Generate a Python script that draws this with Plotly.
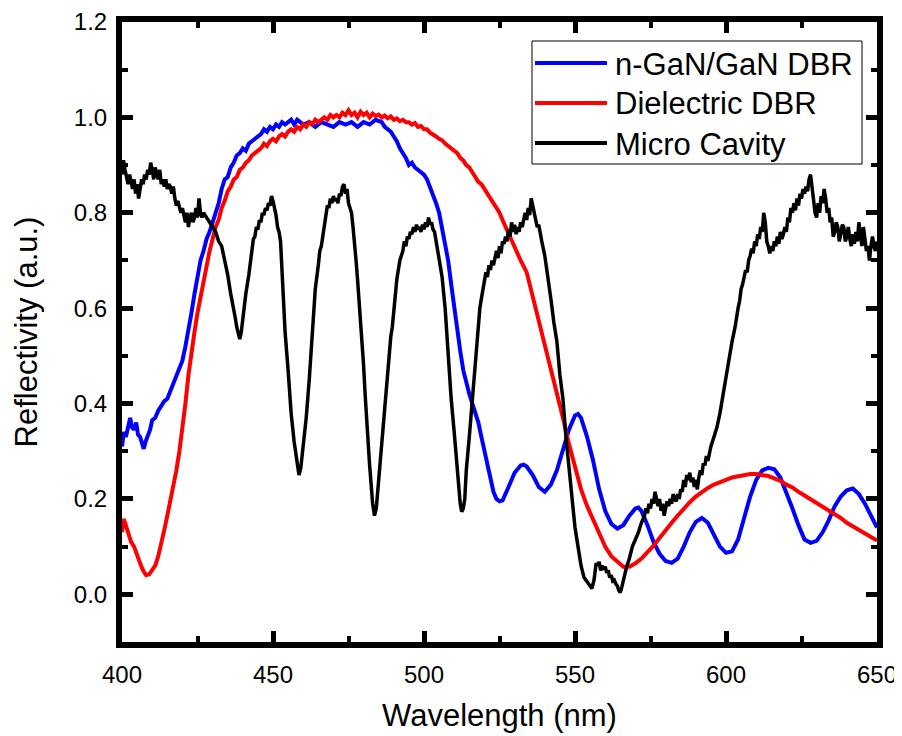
import plotly.graph_objects as go

# ---------------- data ----------------
blue_x = [400.0, 400.6, 401.3, 402.0, 402.7, 403.3, 404.0, 404.7, 405.3, 406.0, 406.6, 407.2, 407.8, 408.5, 409.3,
          410, 411, 412, 413, 414, 415, 416, 417, 418, 419, 420, 421, 422, 423, 424, 425, 426, 427, 428, 429,
          430, 431, 432, 433, 434, 435, 436, 437, 438, 439, 440, 441, 442, 443, 444, 445, 446, 447, 448, 449,
          450, 451, 452, 453, 454, 455, 456, 457, 458, 459, 460, 462, 464, 466, 468, 470, 472, 474, 476, 478,
          480, 482, 484, 486, 487, 488, 489, 490, 491, 492, 493, 494, 495, 496, 497, 498, 499, 500, 501, 502,
          503, 504, 505, 506, 507, 508, 509, 510, 511, 512, 513, 514, 515, 516, 517, 518, 519, 520, 521, 522,
          523, 524, 525, 526, 527, 528, 530, 532, 533, 534, 536, 538, 540, 542, 544, 546, 548, 550, 551, 552,
          554, 556, 558, 560, 562, 564, 566, 568, 570, 571, 572, 574, 576, 578, 580, 582, 584, 586, 588, 590,
          592, 594, 596, 598, 600, 602, 604, 606, 608, 610, 612, 614, 616, 618, 620, 622, 624, 626, 628, 630,
          632, 634, 636, 638, 640, 642, 644, 646, 648, 650]
blue_y = [0.31, 0.34, 0.33, 0.35, 0.37, 0.35, 0.345, 0.36, 0.335, 0.33, 0.32, 0.305, 0.32, 0.33, 0.345,
          0.365, 0.37, 0.385, 0.395, 0.405, 0.41, 0.425, 0.44, 0.455, 0.475, 0.49, 0.52, 0.55, 0.59, 0.63, 0.67,
          0.70, 0.72, 0.745, 0.76, 0.78, 0.80, 0.82, 0.85, 0.87, 0.875, 0.895, 0.905, 0.92, 0.925, 0.935, 0.93,
          0.945, 0.95, 0.955, 0.96, 0.965, 0.975, 0.97, 0.98, 0.975, 0.985, 0.98, 0.99, 0.985, 0.99, 0.995,
          0.985, 0.995, 0.99, 0.985, 0.99, 0.98, 0.99, 0.985, 0.98, 0.99, 0.985, 0.99, 0.98, 0.99, 0.985, 0.995,
          0.99, 0.98, 0.975, 0.97, 0.96, 0.95, 0.935, 0.925, 0.915, 0.90, 0.905, 0.895, 0.89, 0.885, 0.88, 0.87,
          0.855, 0.84, 0.82, 0.80, 0.77, 0.74, 0.70, 0.65, 0.60, 0.55, 0.51, 0.47, 0.44, 0.42, 0.40, 0.38, 0.36,
          0.33, 0.30, 0.27, 0.24, 0.215, 0.20, 0.195, 0.197, 0.21, 0.225, 0.255, 0.27, 0.272, 0.268, 0.25, 0.225,
          0.215, 0.23, 0.26, 0.30, 0.345, 0.375, 0.378, 0.37, 0.33, 0.28, 0.22, 0.175, 0.148, 0.138, 0.145,
          0.165, 0.18, 0.182, 0.175, 0.145, 0.11, 0.085, 0.07, 0.066, 0.075, 0.10, 0.13, 0.152, 0.16, 0.15,
          0.125, 0.10, 0.087, 0.09, 0.115, 0.16, 0.205, 0.24, 0.26, 0.265, 0.262, 0.245, 0.215, 0.18, 0.145,
          0.115, 0.108, 0.112, 0.13, 0.155, 0.185, 0.205, 0.218, 0.222, 0.21, 0.19, 0.165, 0.14]

red_x = [400.0, 400.5, 401, 401.5, 402, 403, 404, 405, 406, 407, 408, 409, 410, 411, 412, 413, 414, 415, 416,
         417, 418, 419, 420, 421, 422, 423, 424, 425, 426, 427, 428, 429, 430, 431, 432, 433, 434, 435, 436,
         437, 438, 439, 440, 441, 442, 443, 444, 445, 446, 447, 448, 449, 450, 451, 452, 453, 454, 455, 456,
         457, 458, 459, 460, 461, 462, 463, 464, 465, 466, 467, 468, 469, 470, 471, 472, 473, 474, 475, 476,
         477, 478, 479, 480, 481, 482, 483, 484, 485, 486, 487, 488, 489, 490, 491, 492, 493, 494, 495, 496,
         497, 498, 499, 500, 501, 502, 503, 504, 505, 506, 507, 508, 509, 510, 511, 512, 513, 514, 515, 516,
         517, 518, 519, 520, 521, 522, 523, 524, 525, 526, 527, 528, 530, 532, 534, 536, 538, 540, 542, 544,
         546, 548, 550, 552, 554, 556, 558, 560, 562, 564, 566, 568, 570, 572, 574, 576, 578, 580, 582, 584,
         586, 588, 590, 592, 594, 596, 598, 600, 602, 604, 606, 608, 610, 612, 614, 616, 618, 620, 622, 624,
         626, 628, 630, 632, 634, 636, 638, 640, 642, 644, 646, 648, 650]
red_y = [0.13, 0.158, 0.15, 0.14, 0.13, 0.11, 0.10, 0.08, 0.065, 0.05, 0.04, 0.042, 0.05, 0.06, 0.08, 0.105,
         0.135, 0.165, 0.195, 0.225, 0.26, 0.30, 0.345, 0.40, 0.46, 0.51, 0.55, 0.59, 0.625, 0.655, 0.69, 0.72,
         0.745, 0.77, 0.785, 0.81, 0.825, 0.845, 0.855, 0.87, 0.875, 0.89, 0.895, 0.905, 0.91, 0.92, 0.925,
         0.93, 0.935, 0.945, 0.94, 0.95, 0.955, 0.95, 0.96, 0.965, 0.96, 0.97, 0.975, 0.97, 0.98, 0.975, 0.985,
         0.98, 0.99, 0.985, 0.995, 0.99, 0.995, 1.0, 0.995, 1.005, 1.0, 1.005, 1.0, 1.01, 1.005, 1.015, 1.005,
         1.01, 1.0, 1.012, 1.005, 1.01, 1.0, 1.008, 1.003, 1.006, 1.0, 1.004, 0.998, 1.002, 0.995, 0.998, 0.992,
         0.995, 0.99, 0.99, 0.985, 0.988, 0.98, 0.982, 0.975, 0.975, 0.968, 0.965, 0.96, 0.955, 0.952, 0.945,
         0.94, 0.935, 0.93, 0.925, 0.915, 0.91, 0.90, 0.895, 0.885, 0.875, 0.865, 0.86, 0.85, 0.84, 0.83, 0.82,
         0.81, 0.80, 0.785, 0.77, 0.76, 0.73, 0.70, 0.675, 0.625, 0.57, 0.52, 0.47, 0.42, 0.37, 0.315, 0.265,
         0.22, 0.185, 0.155, 0.125, 0.10, 0.08, 0.068, 0.058, 0.058, 0.065, 0.075, 0.088, 0.102, 0.118, 0.135,
         0.15, 0.165, 0.18, 0.193, 0.205, 0.215, 0.223, 0.23, 0.236, 0.24, 0.245, 0.248, 0.25, 0.252, 0.252,
         0.25, 0.248, 0.243, 0.238, 0.23, 0.224, 0.215, 0.207, 0.20, 0.193, 0.185, 0.176, 0.168, 0.16, 0.15,
         0.142, 0.135, 0.128, 0.12, 0.113]

black_pts = [
    (400, 0.88), (400.5, 0.91), (401, 0.89), (401.5, 0.87), (402, 0.86), (402.5, 0.88), (403, 0.86), (403.5, 0.85),
    (404, 0.87), (404.5, 0.84), (405, 0.86), (405.5, 0.83), (406, 0.85), (406.5, 0.87), (407, 0.86), (407.5, 0.88),
    (408, 0.87), (408.5, 0.89), (409, 0.88), (409.5, 0.905), (410, 0.89), (410.5, 0.87), (411, 0.895), (411.5, 0.88),
    (412, 0.87), (412.5, 0.89), (413, 0.86), (413.5, 0.87), (414, 0.855), (414.5, 0.87), (415, 0.85), (415.5, 0.86),
    (416, 0.855), (416.5, 0.84), (417, 0.855), (417.5, 0.83), (418, 0.815), (418.5, 0.825), (419, 0.81), (419.5, 0.80),
    (420, 0.81), (420.5, 0.79), (421, 0.78), (421.5, 0.80), (422, 0.77), (422.5, 0.79), (423, 0.80), (423.5, 0.78),
    (424, 0.79), (424.5, 0.81), (425, 0.79), (425.5, 0.83), (426, 0.80), (426.5, 0.79), (427, 0.80), (427.5, 0.795),
    (428, 0.79), (429, 0.78), (430, 0.77), (431, 0.76), (432, 0.74), (433, 0.73), (434, 0.70), (435, 0.67),
    (436, 0.63), (437, 0.60), (437.5, 0.58), (438, 0.56), (438.5, 0.545), (439, 0.535), (439.5, 0.55), (440, 0.58),
    (440.5, 0.60), (441, 0.63), (442, 0.67), (443, 0.72), (443.5, 0.745), (444, 0.75), (444.5, 0.77), (445, 0.765),
    (445.5, 0.785), (446, 0.78), (446.5, 0.80), (447, 0.795), (447.5, 0.81), (448, 0.805), (448.5, 0.82), (449, 0.815),
    (449.5, 0.835), (450, 0.825), (450.5, 0.81), (451, 0.795), (451.5, 0.77), (452, 0.76), (452.5, 0.74), (453, 0.68),
    (453.5, 0.60), (454, 0.55), (455, 0.47), (456, 0.38), (457, 0.32), (458, 0.27), (458.6, 0.25), (459.2, 0.265),
    (460, 0.31), (461, 0.37), (462, 0.45), (463, 0.55), (463.5, 0.60), (464, 0.64), (465, 0.69), (465.5, 0.72),
    (466, 0.73), (466.5, 0.75), (467, 0.77), (467.5, 0.80), (468, 0.815), (468.5, 0.81), (469, 0.83), (469.5, 0.82),
    (470, 0.835), (470.5, 0.825), (471, 0.83), (471.5, 0.82), (472, 0.84), (472.5, 0.835), (473, 0.855), (473.5, 0.86),
    (474, 0.84), (474.5, 0.85), (475, 0.82), (475.5, 0.81), (476, 0.80), (476.5, 0.77), (477, 0.74), (477.5, 0.70),
    (478, 0.66), (479, 0.58), (480, 0.48), (480.5, 0.42), (481, 0.36), (482, 0.27), (483, 0.19), (483.6, 0.165),
    (484.2, 0.18), (485, 0.24), (485.5, 0.28), (486, 0.32), (487, 0.40), (488, 0.47), (489, 0.54), (489.5, 0.56),
    (490, 0.60), (491, 0.66), (492, 0.70), (492.5, 0.71), (493, 0.72), (493.5, 0.74), (494, 0.73), (494.5, 0.75),
    (495, 0.745), (495.5, 0.76), (496, 0.755), (496.5, 0.77), (497, 0.76), (497.5, 0.775), (498, 0.765), (498.5, 0.77),
    (499, 0.76), (499.5, 0.775), (500, 0.765), (500.5, 0.78), (501, 0.77), (501.5, 0.79), (502, 0.775), (502.5, 0.78),
    (503, 0.765), (503.5, 0.76), (504, 0.74), (505, 0.71), (506, 0.665), (507, 0.60), (507.5, 0.55), (508, 0.50),
    (509, 0.41), (510, 0.34), (511, 0.26), (512, 0.19), (512.5, 0.173), (513, 0.18), (513.5, 0.20), (514, 0.26),
    (515, 0.33), (516, 0.41), (517, 0.47), (517.5, 0.52), (518, 0.56), (518.5, 0.60), (519, 0.62), (519.5, 0.64),
    (520, 0.65), (520.5, 0.675), (521, 0.665), (521.5, 0.69), (522, 0.68), (522.5, 0.70), (523, 0.69), (523.5, 0.71),
    (524, 0.72), (524.5, 0.705), (525, 0.73), (525.5, 0.715), (526, 0.74), (526.5, 0.735), (527, 0.75), (527.5, 0.74),
    (528, 0.765), (528.5, 0.75), (529, 0.78), (529.5, 0.76), (530, 0.775), (530.5, 0.755), (531, 0.77), (531.5, 0.76),
    (532, 0.78), (532.5, 0.77), (533, 0.79), (533.5, 0.80), (534, 0.785), (534.5, 0.81), (535, 0.795), (535.5, 0.83),
    (536, 0.815), (536.5, 0.80), (537, 0.79), (537.5, 0.77), (538, 0.775), (538.5, 0.755), (539, 0.74), (540, 0.71),
    (541, 0.67), (542, 0.62), (543, 0.57), (544, 0.53), (545, 0.46), (546, 0.41), (547, 0.33), (548, 0.27),
    (549, 0.20), (550, 0.14), (551, 0.10), (552, 0.06), (553, 0.035), (554, 0.025), (555, 0.015), (555.6, 0.012),
    (556.3, 0.03), (557, 0.065), (557.5, 0.06), (558, 0.068), (558.5, 0.05), (559, 0.06), (559.5, 0.052), (560, 0.058),
    (560.5, 0.045), (561, 0.05), (561.5, 0.035), (562, 0.04), (562.5, 0.028), (563, 0.03), (563.5, 0.022), (564, 0.018),
    (564.5, 0.008), (565, 0.004), (565.5, 0.015), (566, 0.03), (567, 0.055), (568, 0.075), (569, 0.10), (570, 0.115),
    (571, 0.13), (572, 0.15), (573, 0.165), (573.5, 0.18), (574, 0.17), (574.5, 0.19), (575, 0.18), (575.5, 0.20),
    (576, 0.19), (576.5, 0.215), (577, 0.20), (577.5, 0.185), (578, 0.20), (578.5, 0.175), (579, 0.19), (579.5, 0.165),
    (580, 0.18), (580.5, 0.195), (581, 0.185), (581.5, 0.20), (582, 0.19), (582.5, 0.21), (583, 0.20), (583.5, 0.195),
    (584, 0.21), (584.5, 0.20), (585, 0.22), (585.5, 0.215), (586, 0.24), (586.5, 0.225), (587, 0.25), (587.5, 0.24),
    (588, 0.255), (588.5, 0.235), (589, 0.245), (589.5, 0.225), (590, 0.24), (590.5, 0.22), (591, 0.245), (591.5, 0.26),
    (592, 0.25), (592.5, 0.275), (593, 0.27), (593.5, 0.29), (594, 0.28), (595, 0.31), (596, 0.33), (597, 0.35),
    (598, 0.38), (599, 0.42), (600, 0.46), (601, 0.50), (602, 0.53), (603, 0.56), (603.5, 0.585), (604, 0.60),
    (604.5, 0.615), (605, 0.64), (605.5, 0.65), (606, 0.665), (606.5, 0.68), (607, 0.675), (607.5, 0.70), (608, 0.71),
    (608.5, 0.725), (609, 0.715), (609.5, 0.74), (610, 0.73), (610.5, 0.755), (611, 0.745), (611.5, 0.77), (612, 0.76),
    (612.5, 0.80), (613, 0.78), (613.5, 0.74), (614, 0.73), (614.5, 0.715), (615, 0.73), (615.5, 0.72), (616, 0.74),
    (616.5, 0.73), (617, 0.75), (617.5, 0.735), (618, 0.76), (618.5, 0.745), (619, 0.755), (619.5, 0.77), (620, 0.76),
    (620.5, 0.79), (621, 0.78), (621.5, 0.81), (622, 0.80), (622.5, 0.82), (623, 0.805), (623.5, 0.83), (624, 0.815),
    (624.5, 0.84), (625, 0.83), (625.5, 0.85), (626, 0.84), (626.5, 0.855), (627, 0.845), (627.5, 0.87), (628, 0.88),
    (628.5, 0.85), (629, 0.83), (629.5, 0.80), (630, 0.79), (630.5, 0.82), (631, 0.80), (631.5, 0.835), (632, 0.82),
    (632.5, 0.85), (633, 0.83), (633.5, 0.80), (634, 0.81), (634.5, 0.78), (635, 0.79), (635.5, 0.75), (636, 0.76),
    (636.5, 0.78), (637, 0.77), (637.5, 0.74), (638, 0.755), (638.5, 0.775), (639, 0.77), (639.5, 0.74), (640, 0.75),
    (640.5, 0.77), (641, 0.745), (641.5, 0.73), (642, 0.755), (642.5, 0.735), (643, 0.76), (643.5, 0.74), (644, 0.78),
    (644.5, 0.755), (645, 0.73), (645.5, 0.77), (646, 0.74), (646.5, 0.72), (647, 0.73), (647.5, 0.70), (648, 0.73),
    (648.5, 0.75), (649, 0.73), (649.5, 0.72), (650, 0.74)]
black_x = [p[0] for p in black_pts]
black_y = [p[1] for p in black_pts]

series_names = ["n-GaN/GaN DBR", "Dielectric DBR", "Micro Cavity"]
series_colors = ["#0000FF", "#FF0000", "#000000"]
x_ticks = [400, 450, 500, 550, 600, 650]
y_ticks = [0.0, 0.2, 0.4, 0.6, 0.8, 1.0, 1.2]

FONT = "Liberation Sans, Arial, sans-serif"

fig = go.Figure()
for xs, ys, name, col, lw in [(blue_x, blue_y, series_names[0], series_colors[0], 4),
                              (red_x, red_y, series_names[1], series_colors[1], 4),
                              (black_x, black_y, series_names[2], series_colors[2], 3.5)]:
    fig.add_trace(go.Scatter(x=xs, y=ys, mode="lines", name=name,
                             line=dict(color=col, width=lw), showlegend=False))

# the page body has an 8 px default margin, so the figure is made 8 px smaller
OFF = 8
W, H = 902 - OFF, 736 - OFF
L, R, T, B = 122 - OFF, 25, 22 - OFF, 94
pw, ph = W - L - R, H - T - B

def px_x(p):
    return (p - OFF - L) / pw

def px_y(p):
    return (H - B - (p - OFF)) / ph

shapes = [dict(type="rect", xref="paper", yref="paper",
               x0=px_x(532), x1=px_x(862), y0=px_y(164), y1=px_y(41),
               line=dict(color="black", width=1), fillcolor="white", layer="above")]
annotations = []
rows = [63, 103, 143]
for name, col, ry in zip(series_names, series_colors, rows):
    shapes.append(dict(type="line", xref="paper", yref="paper",
                       x0=px_x(535), x1=px_x(607), y0=px_y(ry), y1=px_y(ry),
                       line=dict(color=col, width=4), layer="above"))
    annotations.append(dict(xref="paper", yref="paper", x=px_x(613), y=px_y(ry + 1),
                            text=name, showarrow=False, xanchor="left", yanchor="middle",
                            font=dict(family=FONT, size=31, color="black")))

axis_common = dict(showline=True, linewidth=6, linecolor="black", mirror="allticks",
                   ticks="inside", ticklen=11, tickwidth=5, tickcolor="black",
                   showgrid=False, zeroline=False, automargin=False,
                   ticklabeloverflow="allow",
                   tickfont=dict(family=FONT, size=24, color="black"))

fig.update_layout(
    width=W, height=H,
    margin=dict(l=L, r=R, t=T, b=B, autoexpand=False),
    paper_bgcolor="white", plot_bgcolor="white",
    font=dict(family=FONT, color="black"),
    xaxis=dict(range=[400, 650], tickvals=x_ticks, ticktext=[str(v) for v in x_ticks],
               minor=dict(dtick=25, tick0=400, ticks="inside", ticklen=6, tickwidth=4, tickcolor="black"),
               title=dict(text="Wavelength (nm)", font=dict(family=FONT, size=31), standoff=20),
               ticklabelstandoff=6,
               **axis_common),
    yaxis=dict(range=[-0.1, 1.2], tickvals=y_ticks, ticktext=[f"{v:.1f}" for v in y_ticks],
               minor=dict(dtick=0.1, tick0=0, ticks="inside", ticklen=6, tickwidth=4, tickcolor="black"),
               title=dict(text="Reflectivity (a.u.)", font=dict(family=FONT, size=31), standoff=29),
               ticklabelstandoff=4,
               **axis_common),
    shapes=shapes, annotations=annotations,
)

fig.write_html("out.html")
